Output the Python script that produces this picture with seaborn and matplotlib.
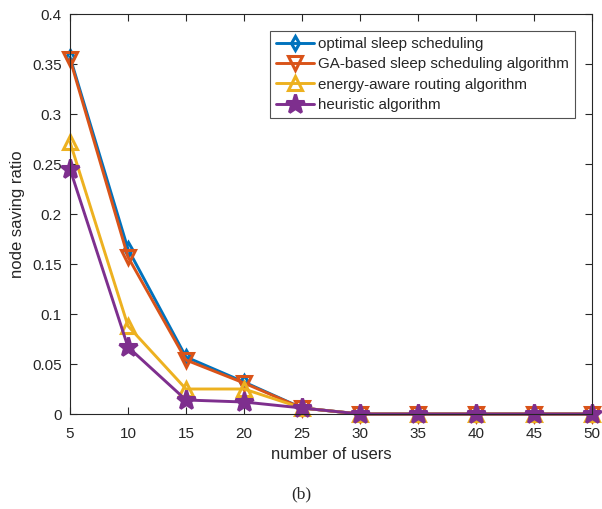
import matplotlib
matplotlib.use("Agg")
import matplotlib.pyplot as plt
import seaborn as sns
import pandas as pd

users = [5, 10, 15, 20, 25, 30, 35, 40, 45, 50]
optimal = [0.357, 0.165, 0.057, 0.032, 0.006, 0, 0, 0, 0, 0]
ga_based = [0.355, 0.157, 0.054, 0.031, 0.006, 0, 0, 0, 0, 0]
energy_aware = [0.272, 0.088, 0.025, 0.025, 0.006, 0, 0, 0, 0, 0]
heuristic = [0.245, 0.067, 0.014, 0.012, 0.006, 0, 0, 0, 0, 0]

series_names = [
    "optimal sleep scheduling",
    "GA-based sleep scheduling algorithm",
    "energy-aware routing algorithm",
    "heuristic algorithm",
]
series_values = [optimal, ga_based, energy_aware, heuristic]
colors = ["#0072BD", "#D95319", "#EDB120", "#7E2F8E"]
markers = ["d", "v", "^", "*"]
marker_sizes = [7, 10, 10, 14]
marker_fills = ["none", "none", "none", "full"]

sns.set_theme(style="ticks")
plt.rcParams["font.family"] = ["Liberation Sans", "DejaVu Sans"]

fig = plt.figure(figsize=(6.02, 5.09), dpi=100)
ax = fig.add_axes([70 / 602, 1 - 414 / 509, 522 / 602, 400 / 509])

frames = []
for name, vals in zip(series_names, series_values):
    frames.append(pd.DataFrame({"users": users, "ratio": vals, "method": name}))
df = pd.concat(frames, ignore_index=True)

for name, color, mk, ms, fill in zip(series_names, colors, markers, marker_sizes, marker_fills):
    sub = df[df["method"] == name]
    kw = dict(marker=mk, markersize=ms, markeredgecolor=color, markeredgewidth=2.2)
    kw["markerfacecolor"] = "none" if fill == "none" else color
    sns.lineplot(data=sub, x="users", y="ratio", color=color, linewidth=2.1,
                 label=name, ax=ax, clip_on=False, **kw)

ax.set_xlim(5, 50)
ax.set_ylim(0, 0.4)
ax.set_xticks(users)
ax.set_yticks([0, 0.05, 0.1, 0.15, 0.2, 0.25, 0.3, 0.35, 0.4])
ax.set_yticklabels(["0", "0.05", "0.1", "0.15", "0.2", "0.25", "0.3", "0.35", "0.4"])
ax.set_xlabel("number of users", fontsize=12, color="#262626", labelpad=5)
ax.set_ylabel("node saving ratio", fontsize=12, color="#262626", labelpad=5)
ax.tick_params(direction="in", length=5, width=0.8, labelsize=11,
               colors="#262626", top=True, right=True)
ax.tick_params(axis="x", pad=9)
ax.tick_params(axis="y", pad=6)
for sp in ax.spines.values():
    sp.set_visible(True)
    sp.set_color("#262626")
    sp.set_linewidth(0.8)

leg = ax.legend(loc="upper right", bbox_to_anchor=(575 / 602, 1 - 31 / 509),
                bbox_transform=fig.transFigure, borderaxespad=0,
                fontsize=10.9, frameon=True, fancybox=False, edgecolor="#262626",
                handlelength=2.5, borderpad=0.4, labelspacing=0.42,
                handletextpad=0.3)
leg.get_frame().set_linewidth(0.8)

fig.text(0.5, 1 - 494 / 509, "(b)", ha="center", va="center",
         family=["Liberation Serif", "DejaVu Serif"], fontsize=12.5)

fig.savefig("out.png", dpi=100)
